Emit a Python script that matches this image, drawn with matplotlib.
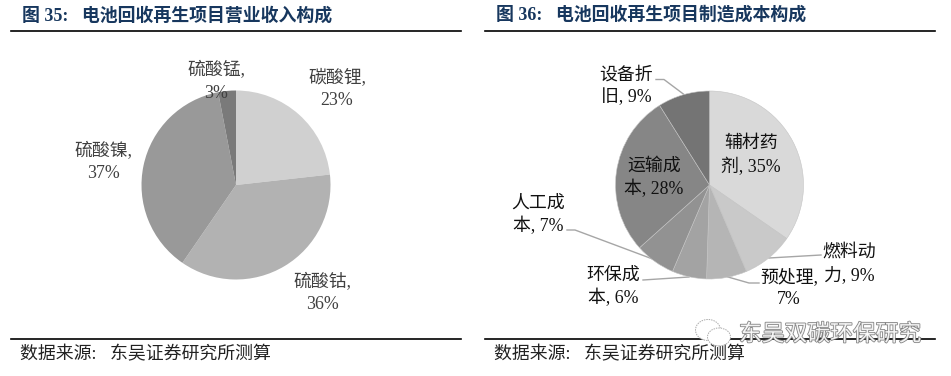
import matplotlib
matplotlib.use("Agg")
import matplotlib.pyplot as plt
import matplotlib.patheffects as pe
from matplotlib.patches import Ellipse

plt.rcParams['font.family'] = ['Liberation Serif', 'Noto Sans CJK SC']

W, H = 951, 376

# left pie
revenue_labels = ['碳酸锂,\n23%', '硫酸钴,\n36%', '硫酸镍,\n37%', '硫酸锰,\n3%']
revenue_values = [23, 36, 37, 3]
revenue_colors = ['#d0d0d0', '#b2b2b2', '#999999', '#7a7a7a']

# right pie
cost_labels = ['辅材药\n剂, 35%', '燃料动\n力, 9%', '预处理,\n7%', '环保成\n本, 6%',
               '人工成\n本, 7%', '运输成\n本, 28%', '设备折\n旧, 9%']
cost_values = [35, 9, 7, 6, 7, 28, 9]
cost_colors = ['#d9d9d9', '#c9c9c9', '#b5b5b5', '#a3a3a3', '#929292', '#868686', '#747474']

title_left = '图 35:   电池回收再生项目营业收入构成'
title_right = '图 36:   电池回收再生项目制造成本构成'
source = '数据来源:   东吴证券研究所测算'
watermark = '东吴双碳环保研究'

fig = plt.figure(figsize=(W / 100, H / 100), dpi=100)
ax = fig.add_axes([0, 0, 1, 1])

ax.pie(revenue_values, colors=revenue_colors, center=(236, H - 185), radius=94.5,
       startangle=90, counterclock=False, wedgeprops={'linewidth': 0})
ax.pie(cost_values, colors=cost_colors, center=(709.5, H - 185), radius=94,
       startangle=90, counterclock=False,
       wedgeprops={'linewidth': 0.4, 'edgecolor': '#c4c4c4'})
ax.set_xlim(0, W)
ax.set_ylim(0, H)
ax.set_aspect('equal')
ax.axis('off')


def put(x, y, s, **kw):
    kw.setdefault('ha', 'center')
    kw.setdefault('va', 'center')
    kw.setdefault('fontsize', 12.9)
    kw.setdefault('linespacing', 1.4)
    return ax.text(x, H - y, s, **kw)


def line(xs, ys, **kw):
    ax.plot(xs, [H - y for y in ys], **kw)


# header and footer rules
for x0, x1 in [(11, 461), (484.5, 935)]:
    line([x0, x1], [30.5, 30.5], color='black', lw=1.2)
    line([x0, x1], [338.5, 338.5], color='black', lw=1.2)

put(22, 16, title_left, ha='left', color='#17375e', fontweight='bold')
put(496, 15, title_right, ha='left', color='#17375e', fontweight='bold')
put(20, 355, source, ha='left', color='#222222')
put(494, 355, source, ha='left', color='#222222')

# left labels
left_pos = [(337, 89), (322, 293), (103, 162), (216, 81.5)]
for (x, y), s in zip(left_pos, revenue_labels):
    put(x, y, s, color='#404040')

# right labels
right_pos = [(751, 156), (849, 263.5), (789, 288), (613, 287), (538, 215), (654, 178), (626, 86.5)]
for (x, y), s in zip(right_pos, cost_labels):
    put(x, y, s, color='#111111')

# leader lines, kept under the wedges
leader = dict(color='#a6a6a6', lw=1.0, zorder=0.5)
line([656, 664, 684], [79.5, 79.5, 94.5], **leader)
line([567, 575, 666], [230, 230, 264], **leader)
line([643, 689], [280, 277], **leader)
line([759, 749, 728], [283, 283, 277], **leader)
line([821, 769], [255, 258], **leader)

# watermark
for (cx, cy, w, h) in [(708, 330, 25, 21), (719, 337, 23, 18)]:
    ax.add_patch(Ellipse((cx, H - cy), w, h, facecolor='white', edgecolor='#aaaaaa',
                         lw=0.7, ls=(0, (1.5, 1)), zorder=3))
put(830, 335, watermark, fontsize=16.4, color='white', alpha=0.9,
    path_effects=[pe.withStroke(linewidth=1.2, foreground='#777777')])

fig.savefig('out.png', dpi=100)
